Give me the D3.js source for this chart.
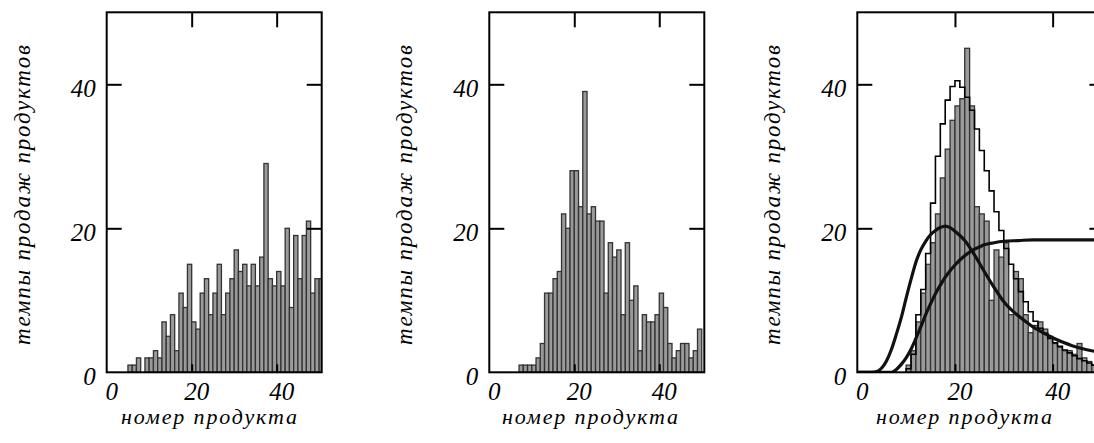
<!DOCTYPE html>
<html><head><meta charset="utf-8">
<script src="https://cdn.jsdelivr.net/npm/d3@7"></script>
<style>
body{margin:0;background:#fff}
text{font-family:"Liberation Serif","DejaVu Serif",serif;font-style:italic;fill:#000}
</style>
</head><body>
<svg id="chart" width="1094" height="443"></svg>
<script>
// ---------- data ----------
const xTitle = "номер продукта";
const yTitle = "темпы продаж продуктов";
const xTickMarks = [20, 40];
const yTickMarks = [20, 40];
const xTickLabels = [0, 20, 40];
const yTickLabels = [0, 20, 40];

// panel 1 : products 5..50
const p1Start = 5;
const p1Values = [1,1,2,0,2,2,3,2,7,5,8,3,11,9,15,7,6,11,13,8,11,15,8,11,13,17,14,15,12,15,12,16,29,13,12,14,12,20,9,19,13,19,21,11,13,13];

// panel 2 : products 7..49
const p2Start = 7;
const p2Values = [1,1,1,1,2,4,11,11,13,14,22,20,28,28,23,39,22,23,21,21,11,18,16,17,8,18,10,12,3,8,7,7,8,11,9,4,2,3,4,4,2,3,6];

// panel 3 : products 10..48
const p3Start = 10;
const p3Values = [1,3,7,11,15,18,22,27,31,35,37,38,45,37,23,22,21,10,17,16,18,8,14,13,8,5.5,6.5,7,6,5,4,3.5,3,3,2.5,4,2,1.5,1];
const p3Step = [0.5,2.5,8,11.5,16.5,23.5,30,34.5,37.8,39.7,40.5,39.6,38.2,36.4,33.8,30.8,28,25.2,22.3,19.7,17.2,15,13,11.2,9.8,8.4,7.1,6.1,5.4,4.7,4.1,3.6,3.1,2.7,2.3,1.9,1.6,1.3,1.0];

// smooth curves in panel 3
const curveAX = [0,3,4,5,6,7,8,9,10,11,12,13,14,15,16,17,18,19,20,21,22,24,26,28,30,32,34,36,38,40,42,44,46,48,50];
const curveAY = [0,0,0.1,0.6,1.6,3.2,5.3,7.6,10.3,12.9,15.3,17,18.2,19.1,19.7,20.1,20.3,20.1,19.6,19,18.3,16.3,14,11.8,9.8,8.4,7.3,6.3,5.5,4.8,4.2,3.7,3.3,3.0,2.8];
const curveBX = [0,7,8,9,10,11,12,13,14,15,16,17,18,19,20,21,22,23,24,25,26,28,30,33,36,50];
const curveBY = [0,0,0.4,1.1,2,3.2,4.7,6.3,8,9.5,10.9,12.1,13.2,14.1,14.9,15.6,16.2,16.7,17.1,17.4,17.7,18,18.2,18.3,18.4,18.4];

// ---------- layout ----------
const svg = d3.select("#chart");
const yTop = 12.3, yBottom = 372.3;
const y = d3.scaleLinear().domain([0, 50]).range([yBottom, yTop]);
const xDomain = [0, 50.6];
const panels = [
  {left:106.7, right:321.7, titleX:209, start:p1Start, values:p1Values},
  {left:489.3, right:704.3, titleX:590, start:p2Start, values:p2Values},
  {left:857.3, right:1104.4, titleX:964, start:p3Start, values:p3Values, step:p3Step,
   curves:[[curveAX,curveAY],[curveBX,curveBY]]}
];

panels.forEach((p, pi) => {
  const x = d3.scaleLinear().domain(xDomain).range([p.left, p.right]);
  const g = svg.append("g");
  const clipId = "clip" + pi;
  svg.append("clipPath").attr("id", clipId).append("rect")
    .attr("x", p.left).attr("y", yTop).attr("width", p.right - p.left).attr("height", yBottom - yTop);
  const plot = g.append("g").attr("clip-path", `url(#${clipId})`);

  const tickStyle = sel => { sel.select(".domain").remove(); sel.selectAll("line").attr("stroke","#000").attr("stroke-width",2); sel.selectAll("text").remove(); };
  g.append("g").attr("transform",`translate(${p.left},0)`).call(d3.axisLeft(y).tickValues(yTickMarks).tickSizeInner(-15).tickSizeOuter(0)).call(tickStyle);
  g.append("g").attr("transform",`translate(${p.right},0)`).call(d3.axisRight(y).tickValues(yTickMarks).tickSizeInner(-15).tickSizeOuter(0)).call(tickStyle);
  g.append("g").attr("transform",`translate(0,${yTop})`).call(d3.axisTop(x).tickValues(xTickMarks).tickSizeInner(-15).tickSizeOuter(0)).call(tickStyle);
  g.append("g").attr("transform",`translate(0,${yBottom})`).call(d3.axisBottom(x).tickValues(xTickMarks).tickSizeInner(-8).tickSizeOuter(0)).call(tickStyle);

  // bars
  const data = p.values.map((v, k) => ({bin: p.start + k, v}));
  plot.selectAll("rect.bar").data(data.filter(d => d.v > 0)).enter().append("rect")
    .attr("class","bar")
    .attr("x", d => x(d.bin)).attr("width", d => x(d.bin + 1) - x(d.bin))
    .attr("y", d => y(d.v)).attr("height", d => y(0) - y(d.v))
    .attr("fill", "#9a9a9a").attr("stroke", "#333").attr("stroke-width", 1.3);

  // step outline histogram
  if (p.step) {
    const pts = [[p.start, 0]];
    p.step.forEach((v, k) => pts.push([p.start + k, v]));
    const last = p.start + p.step.length;
    pts.push([last, p.step[p.step.length - 1]]);
    pts.push([last, 0]);
    plot.append("path").attr("d", d3.line().x(d => x(d[0])).y(d => y(d[1])).curve(d3.curveStepAfter)(pts))
      .attr("fill","none").attr("stroke","#000").attr("stroke-width",1.6);
  }
  // smooth curves
  if (p.curves) {
    p.curves.forEach(([cx, cy]) => {
      const pts = cx.map((xv, k) => [xv, cy[k]]);
      plot.append("path").attr("d", d3.line().x(d => x(d[0])).y(d => y(d[1])).curve(d3.curveMonotoneX)(pts))
        .attr("fill","none").attr("stroke","#111").attr("stroke-width",3.2).attr("stroke-linejoin","round");
    });
  }

  // frame
  g.append("rect").attr("x", p.left).attr("y", yTop).attr("width", p.right - p.left).attr("height", yBottom - yTop)
    .attr("fill","none").attr("stroke","#000").attr("stroke-width",2);

  // tick labels
  g.selectAll("text.yl").data(yTickLabels).enter().append("text").attr("class","yl")
    .attr("x", p.left - 11).attr("y", d => y(d) + 13).attr("text-anchor","end")
    .attr("font-size", 25).text(d => d);
  g.selectAll("text.xl").data(xTickLabels).enter().append("text").attr("class","xl")
    .attr("x", d => x(d) + 5).attr("y", yBottom + 28).attr("text-anchor","middle")
    .attr("font-size", 25).text(d => d);

  // titles
  g.append("text").attr("x", p.titleX).attr("y", 424).attr("text-anchor","middle")
    .attr("font-size", 22).attr("textLength", 176).attr("lengthAdjust","spacing").text(xTitle);
  g.append("text").attr("transform", `translate(${p.left - 77},195) rotate(-90)`).attr("text-anchor","middle")
    .attr("font-size", 23).attr("textLength", 300).attr("lengthAdjust","spacing").text(yTitle);
});
</script>
</body></html>
